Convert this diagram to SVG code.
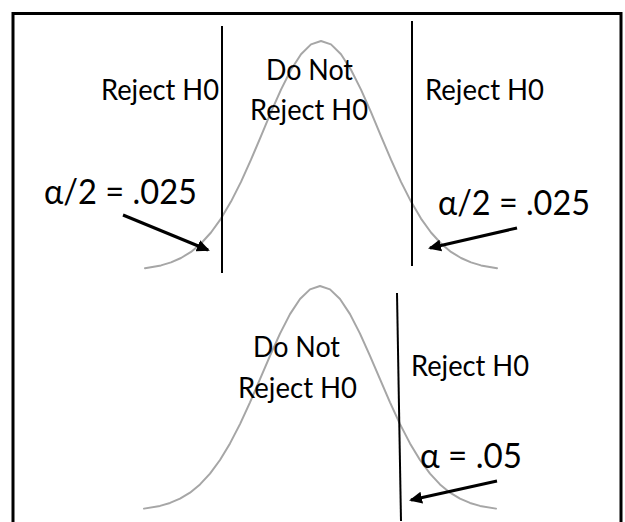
<svg xmlns="http://www.w3.org/2000/svg" width="625" height="522" viewBox="0 0 625 522">
  <style>
    .frame { fill: none; stroke: #000; stroke-width: 3; }
    .bell { fill: none; stroke: #a6a6a6; stroke-width: 2; stroke-linejoin: round; stroke-linecap: round; }
    .cut { stroke: #000; stroke-width: 2; }
    .arrow { stroke: #000; stroke-width: 3; fill: none; marker-end: url(#head); }
    .lbl { font-family: Lato, "Open Sans", "Noto Sans", sans-serif; font-size: 29.5px; fill: #000; }
    .alpha { font-family: Lato, "Open Sans", "Noto Sans", sans-serif; font-size: 35px; fill: #000; }
  </style>
  <defs>
    <marker id="head" markerUnits="userSpaceOnUse" markerWidth="14" markerHeight="12" refX="11" refY="6" orient="auto">
      <path d="M0,0 L13,6 L0,12 z" fill="#000"/>
    </marker>
    <path id="curve" d="M-176,227.2 L-160,224.4 L-150,221.4 L-140,217 L-130,210.9 L-120,202.5 L-110,191.5 L-100,177.6 L-90,160.6 L-80,140.9 L-70,118.7 L-60,95.1 L-50,71.2 L-40,48.6 L-30,28.7 L-20,13.2 L-10,3.4 L0,0 L10,3.4 L20,13.2 L30,28.7 L40,48.6 L50,71.2 L60,95.1 L70,118.7 L80,140.9 L90,160.6 L100,177.6 L110,191.5 L120,202.5 L130,210.9 L140,217 L150,221.4 L160,224.4 L176,227.2"/>
  </defs>

  <rect id="frame" class="frame" x="13" y="13.5" width="608" height="530"/>

  <g id="two-tailed">
    <use id="curve-top" href="#curve" class="bell" transform="translate(321,41)"/>
    <line id="cut-top-left" class="cut" x1="222" y1="26" x2="222" y2="273"/>
    <line id="cut-top-right" class="cut" x1="412" y1="21" x2="412" y2="266"/>
    <g id="lbl-reject-left"><text class="lbl" x="101" y="100" textLength="118" lengthAdjust="spacingAndGlyphs">Reject H0</text></g>
    <g id="lbl-donot-top">
      <text class="lbl" x="266" y="80" textLength="87" lengthAdjust="spacingAndGlyphs">Do Not</text>
      <text class="lbl" x="250" y="120" textLength="118" lengthAdjust="spacingAndGlyphs">Reject H0</text>
    </g>
    <g id="lbl-reject-right"><text class="lbl" x="425" y="100" textLength="119" lengthAdjust="spacingAndGlyphs">Reject H0</text></g>
    <g id="lbl-alpha-left"><text class="alpha" x="44" y="204" textLength="153" lengthAdjust="spacingAndGlyphs">α/2 = .025</text></g>
    <g id="lbl-alpha-right"><text class="alpha" x="438" y="215" textLength="152" lengthAdjust="spacingAndGlyphs">α/2 = .025</text></g>
  </g>

  <g id="one-tailed">
    <use id="curve-bottom" href="#curve" class="bell" transform="translate(320,286) scale(1,0.98)"/>
    <line id="cut-bottom" class="cut" x1="397" y1="293" x2="401" y2="521"/>
    <g id="lbl-donot-bottom">
      <text class="lbl" x="253" y="357" textLength="87" lengthAdjust="spacingAndGlyphs">Do Not</text>
      <text class="lbl" x="238" y="398" textLength="119" lengthAdjust="spacingAndGlyphs">Reject H0</text>
    </g>
    <g id="lbl-reject-bottom"><text class="lbl" x="411" y="376" textLength="118" lengthAdjust="spacingAndGlyphs">Reject H0</text></g>
    <g id="lbl-alpha-bottom"><text class="alpha" x="420" y="468" textLength="102" lengthAdjust="spacingAndGlyphs">α = .05</text></g>
  </g>

  <g id="connectors">
    <line class="arrow" x1="123" y1="215" x2="208" y2="250"/>
    <line class="arrow" x1="517" y1="228" x2="430" y2="248"/>
    <line class="arrow" x1="497" y1="481" x2="411" y2="500"/>
  </g>
</svg>
